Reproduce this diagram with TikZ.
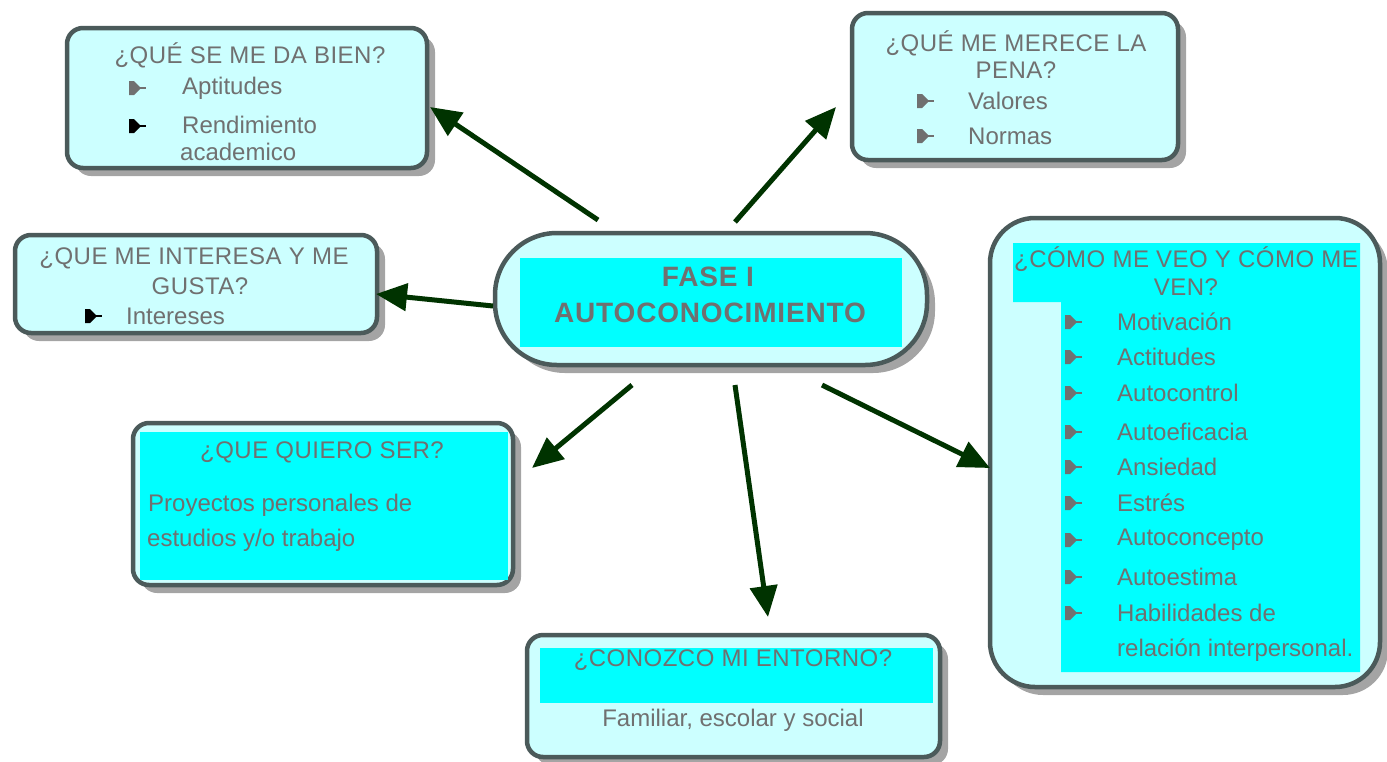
\documentclass[tikz,border=0pt]{standalone}
\usepackage{fontspec}
\setmainfont{Liberation Sans}
\newfontfamily\ttlfont[LetterSpace=2]{Liberation Sans}
\newfontfamily\ctrfont[LetterSpace=3]{Liberation Sans}
\usetikzlibrary{arrows.meta,shadows}
\definecolor{lcyan}{HTML}{CCFFFF}
\definecolor{cyanf}{HTML}{00FFFF}
\definecolor{bord}{HTML}{4B5A5A}
\definecolor{txt}{HTML}{707070}
\definecolor{arr}{HTML}{003300}
\definecolor{shd}{HTML}{A4A4A4}
\begin{document}
\begin{tikzpicture}[x=1pt,y=-1pt,
 box/.style={draw=bord, line width=4.5pt, fill=lcyan, rounded corners=16pt, inner sep=0pt,
   drop shadow={shadow xshift=8pt, shadow yshift=-8pt, fill=shd, opacity=1}},
 ttl/.style={text=txt, font=\ttlfont\fontsize{24}{28}\selectfont, inner sep=0pt},
 itm/.style={text=txt, font=\fontsize{24}{28}\selectfont, inner sep=0pt, anchor=west},
 ctr/.style={text=txt, font=\ctrfont\bfseries\fontsize{28}{32}\selectfont, inner sep=0pt},
 con/.style={draw=arr, line width=5pt, -{Triangle[length=31pt,width=27pt]}},
 bul/.pic={\fill[#1] (-8,-7) -- (-3,-7) -- (4,0) -- (-3,7) -- (-8,7) -- cycle;
           \draw[#1, line width=2pt] (3,0) -- (9,0);},
]
\useasboundingbox (0,0) rectangle (1387,761);

% ---------- boxes ----------
\node[box, minimum width=360pt, minimum height=140pt] (b1) at (247,98) {};
\node[box, minimum width=362pt, minimum height=98pt] (b2) at (196,284) {};
\node[box, minimum width=326pt, minimum height=147pt] (b3) at (1015,86.5) {};
\node[box, rounded corners=62pt, minimum width=432pt, minimum height=132pt] (c) at (711,299) {};
\node[box, rounded corners=45pt, minimum width=390pt, minimum height=469pt] (b5) at (1185,452.5) {};
\node[box, minimum width=380pt, minimum height=162pt] (b6) at (323,504) {};
\node[box, minimum width=413pt, minimum height=122pt] (b7) at (733.5,696) {};

% ---------- cyan inner areas ----------
\fill[cyanf] (520,258) rectangle (902,347);
\fill[cyanf] (1013,243) -- (1360,243) -- (1360,672) -- (1061,672) -- (1061,302) -- (1013,302) -- cycle;
\fill[cyanf] (140,432) rectangle (508,580);
\fill[cyanf] (540,648) rectangle (933,703);

% ---------- centre ----------
\node[ctr] (c1) at (708,277) {FASE I};
\node[ctr] (c2) at (710,313) {AUTOCONOCIMIENTO};

% ---------- box 1 ----------
\node[ttl] (t1) at (250,55) {¿QUÉ SE ME DA BIEN?};
\pic at (137,88) {bul=txt};
\node[itm] (t1a) at (182,88) {Aptitudes};
\pic at (137,126) {bul=black};
\node[itm] (t1b) at (182,125) {Rendimiento};
\node[itm] (t1c) at (180,152) {academico};

% ---------- box 2 ----------
\node[ttl] (t2) at (194,258) {¿QUE ME INTERESA Y ME};
\node[ttl] (t2b) at (200,286) {GUSTA?};
\pic at (93,316) {bul=black};
\node[itm] (t2a) at (126,316) {Intereses};

% ---------- box 3 ----------
\node[ttl] (t3) at (1016,43) {¿QUÉ ME MERECE LA};
\node[ttl] (t3b) at (1016,70) {PENA?};
\pic at (925,101) {bul=txt};
\node[itm] (t3a) at (968,101) {Valores};
\pic at (925,136) {bul=txt};
\node[itm] (t3c) at (968,136) {Normas};

% ---------- box 5 ----------
\node[ttl] (t5) at (1186,259) {¿CÓMO ME VEO Y CÓMO ME};
\node[ttl] (t5b) at (1186,287) {VEN?};
\foreach \yy/\tx [count=\i] in {322/Motivación,357/Actitudes,393/Autocontrol,432/Autoeficacia,467/Ansiedad,503/Estrés,540/Autoconcepto,577/Autoestima,613/Habilidades de}{
  \pic at (1073,\yy) {bul=txt};
  \node[itm] (i\i) at (1117,\yy) {\tx};
}
\node[itm] (i10) at (1117,650) {relación interpersonal.};

% ---------- box 6 ----------
\node[ttl] (t6) at (322,452) {¿QUE QUIERO SER?};
\node[itm] (t6a) at (148,505) {Proyectos personales de};
\node[itm] (t6b) at (147,540) {estudios y/o trabajo};

% ---------- box 7 ----------
\node[ttl] (t7) at (733,660) {¿CONOZCO MI ENTORNO?};
\node[itm, anchor=center] (t7a) at (733,720) {Familiar, escolar y social};

% ---------- connectors ----------
\coordinate (s1) at (598,220); \coordinate (e1) at (430,107);
\coordinate (s2) at (735,222); \coordinate (e2) at (836,107);
\coordinate (s3) at (493,306); \coordinate (e3) at (376,294);
\coordinate (s4) at (632,385); \coordinate (e4) at (532,468);
\coordinate (s5) at (735,385); \coordinate (e5) at (768,617);
\coordinate (s6) at (822,385); \coordinate (e6) at (990,468);
\draw[con] (s1) -- (e1);
\draw[con] (s2) -- (e2);
\draw[con] (s3) -- (e3);
\draw[con] (s4) -- (e4);
\draw[con] (s5) -- (e5);
\draw[con] (s6) -- (e6);
\end{tikzpicture}
\end{document}
